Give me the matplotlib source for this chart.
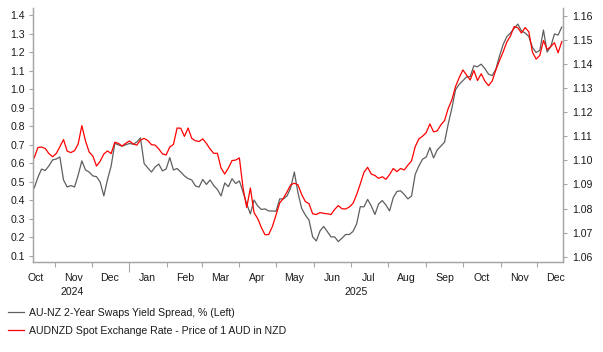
import matplotlib
matplotlib.use("Agg")
import matplotlib.pyplot as plt
import matplotlib.dates as mdates
from matplotlib.ticker import FixedLocator, FormatStrFormatter, NullFormatter
import pandas as pd
import numpy as np

plt.rcParams['font.family'] = ['Liberation Sans', 'DejaVu Sans']

# Observation dates (every 3 days, Oct 15 2024 - Dec 21 2025)
dates = pd.date_range('2024-10-15', periods=145, freq='3D')

# AU-NZ 2-Year swaps yield spread, % (left axis)
spread = [
    0.467, 0.524, 0.569, 0.561, 0.586, 0.618, 0.623, 0.634, 0.510, 0.472,
    0.480, 0.472, 0.537, 0.613, 0.564, 0.553, 0.532, 0.528, 0.499, 0.424,
    0.512, 0.586, 0.708, 0.699, 0.693, 0.700, 0.707, 0.703, 0.715, 0.737,
    0.599, 0.575, 0.553, 0.580, 0.596, 0.559, 0.569, 0.631, 0.564, 0.572,
    0.553, 0.532, 0.518, 0.510, 0.478, 0.472, 0.513, 0.486, 0.510, 0.480,
    0.459, 0.424, 0.494, 0.474, 0.517, 0.491, 0.505, 0.445, 0.381, 0.327,
    0.402, 0.370, 0.351, 0.354, 0.343, 0.343, 0.341, 0.408, 0.408, 0.424,
    0.467, 0.553, 0.440, 0.357, 0.321, 0.294, 0.203, 0.181, 0.235, 0.259,
    0.232, 0.203, 0.203, 0.178, 0.196, 0.216, 0.216, 0.232, 0.273, 0.366,
    0.365, 0.405, 0.370, 0.324, 0.381, 0.399, 0.375, 0.343, 0.415, 0.448,
    0.452, 0.432, 0.408, 0.424, 0.541, 0.586, 0.622, 0.634, 0.685, 0.629,
    0.672, 0.693, 0.714, 0.812, 0.897, 0.997, 1.026, 1.046, 1.066, 1.068,
    1.126, 1.121, 1.135, 1.111, 1.081, 1.073, 1.107, 1.179, 1.241, 1.283,
    1.303, 1.328, 1.351, 1.314, 1.303, 1.284, 1.225, 1.198, 1.209, 1.319,
    1.200, 1.230, 1.298, 1.292, 1.335,
]

# AUDNZD spot exchange rate (right axis)
audnzd = [
    1.1010, 1.1053, 1.1055, 1.1049, 1.1028, 1.1015, 1.1028, 1.1056, 1.1086, 1.1038,
    1.1032, 1.1040, 1.1068, 1.1144, 1.1080, 1.1034, 1.1018, 1.0976, 1.0996, 1.1026,
    1.1039, 1.1028, 1.1075, 1.1070, 1.1059, 1.1071, 1.1080, 1.1068, 1.1063, 1.1084,
    1.1091, 1.1082, 1.1065, 1.1063, 1.1047, 1.1027, 1.1022, 1.1055, 1.1066, 1.1134,
    1.1133, 1.1099, 1.1134, 1.1091, 1.1081, 1.1078, 1.1089, 1.1070, 1.1047, 1.1029,
    1.1029, 1.0968, 1.0943, 1.0968, 1.0999, 1.1001, 1.1010, 1.0885, 1.0804, 1.0885,
    1.0783, 1.0758, 1.0721, 1.0691, 1.0692, 1.0725, 1.0773, 1.0823, 1.0842, 1.0869,
    1.0898, 1.0905, 1.0898, 1.0858, 1.0829, 1.0820, 1.0778, 1.0775, 1.0783, 1.0780,
    1.0778, 1.0775, 1.0796, 1.0812, 1.0799, 1.0798, 1.0806, 1.0821, 1.0857, 1.0902,
    1.0950, 1.0971, 1.0943, 1.0937, 1.0925, 1.0932, 1.0921, 1.0941, 1.0966, 1.0953,
    1.0966, 1.0960, 1.0980, 1.0998, 1.1057, 1.1089, 1.1100, 1.1115, 1.1151, 1.1118,
    1.1122, 1.1147, 1.1165, 1.1215, 1.1251, 1.1306, 1.1343, 1.1375, 1.1354, 1.1333,
    1.1373, 1.1331, 1.1359, 1.1329, 1.1310, 1.1329, 1.1375, 1.1414, 1.1450, 1.1491,
    1.1516, 1.1555, 1.1550, 1.1528, 1.1551, 1.1533, 1.1448, 1.1420, 1.1435, 1.1497,
    1.1460, 1.1472, 1.1488, 1.1446, 1.1493,
]

left_ticks = [0.1, 0.2, 0.3, 0.4, 0.5, 0.6, 0.7, 0.8, 0.9, 1.0, 1.1, 1.2, 1.3, 1.4]
right_ticks = [1.06, 1.07, 1.08, 1.09, 1.10, 1.11, 1.12, 1.13, 1.14, 1.15, 1.16]
month_labels = ['Oct', 'Nov', 'Dec', 'Jan', 'Feb', 'Mar', 'Apr', 'May', 'Jun',
                'Jul', 'Aug', 'Sep', 'Oct', 'Nov', 'Dec']
label_names = ['AU-NZ 2-Year Swaps Yield Spread, % (Left)',
               'AUDNZD Spot Exchange Rate - Price of 1 AUD in NZD']

GRAY = '#5f5f5f'
RED = '#ff0000'
SPINE = '#a6a6a6'
TXT = '#1a1a1a'
FS = 7.6

fig = plt.figure(figsize=(6.03, 3.52), dpi=100)
ax = fig.add_axes([33 / 603, 1 - 262 / 352, 530 / 603, 254 / 352])
ax2 = ax.twinx()

l1, = ax.plot(dates, spread, color=GRAY, lw=0.9, label=label_names[0])
l2, = ax2.plot(dates, audnzd, color=RED, lw=0.9, label=label_names[1])

ax.set_xlim(pd.Timestamp('2024-10-14'), pd.Timestamp('2025-12-22'))
ax.set_ylim(0.0676, 1.4378)
ax2.set_ylim(1.0578, 1.1632)

ax.set_yticks(left_ticks)
ax.yaxis.set_major_formatter(FormatStrFormatter('%.1f'))
ax2.set_yticks(right_ticks)
ax2.yaxis.set_major_formatter(FormatStrFormatter('%.2f'))

# month boundaries as ticks, labels at mid-month
month_starts = pd.date_range('2024-11-01', '2025-12-01', freq='MS')
mid_months = pd.date_range('2024-10-01', '2025-12-01', freq='MS') + pd.Timedelta(days=15)
ax.xaxis.set_major_locator(FixedLocator(mdates.date2num(month_starts)))
ax.xaxis.set_major_formatter(NullFormatter())
ax.xaxis.set_minor_locator(FixedLocator(mdates.date2num(mid_months)))
ax.set_xticklabels(month_labels, minor=True)
ax.tick_params(axis='x', which='minor', length=0, pad=8, labelsize=FS, labelcolor=TXT)
ax.tick_params(axis='x', which='major', length=3.5, width=0.8, color=SPINE, direction='out')
for t, d in zip(ax.xaxis.get_major_ticks(), month_starts):
    if d.month == 1:
        t.tick1line.set_markersize(7)

ax.tick_params(axis='y', length=3, width=0.8, color=SPINE, pad=3, labelsize=FS, labelcolor=TXT)
ax2.tick_params(axis='y', length=3, width=0.8, color=SPINE, pad=3.5, labelsize=FS, labelcolor=TXT)

for a in (ax, ax2):
    a.spines['top'].set_visible(False)
    for s in ('left', 'right', 'bottom'):
        a.spines[s].set_color(SPINE)
        a.spines[s].set_linewidth(0.9)

# year labels
tr = ax.get_xaxis_transform()
ax.text(mdates.date2num(pd.Timestamp('2024-11-15')), -0.1, '2024', transform=tr,
        ha='center', va='top', fontsize=FS, color=TXT)
ax.text(mdates.date2num(pd.Timestamp('2025-07-06')), -0.1, '2025', transform=tr,
        ha='center', va='top', fontsize=FS, color=TXT)

fig.legend(handles=[l1, l2], labels=label_names, loc='upper left',
           bbox_to_anchor=(8 / 603, 1 - 308 / 352), frameon=False,
           fontsize=FS, handlelength=1.55, handletextpad=0.4,
           labelspacing=0.72, borderpad=0, borderaxespad=0, labelcolor=TXT)

fig.savefig('out.png', dpi=100)
